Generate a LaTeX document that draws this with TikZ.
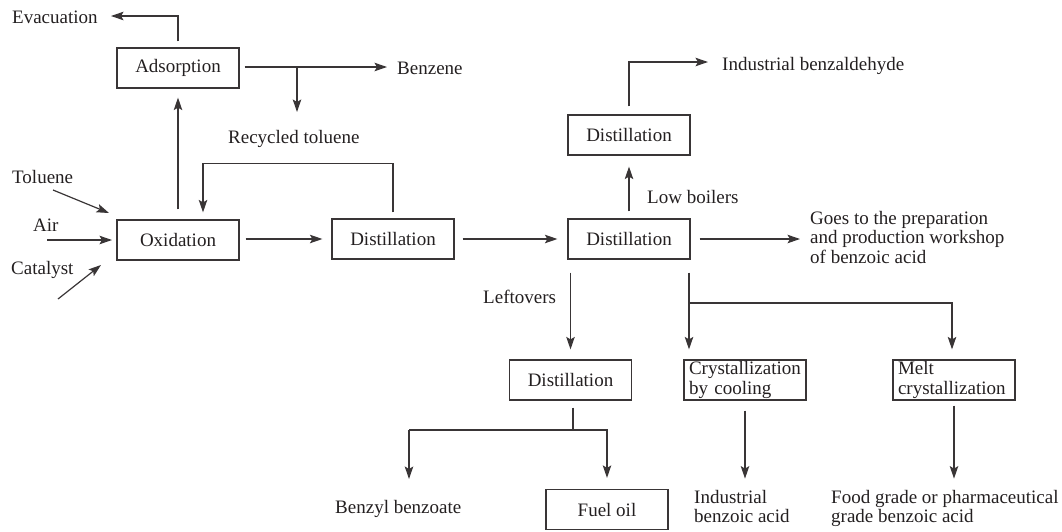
\documentclass[tikz,border=0pt]{standalone}
\usepackage{fontspec}
\setmainfont{Liberation Serif}
\usetikzlibrary{arrows.meta}
\definecolor{ink}{HTML}{231F20}
\begin{document}
\begin{tikzpicture}[x=1pt,y=-1pt,
  line/.style={draw=ink!90, line width=1.2pt},
  arr/.style={line, -{Stealth[length=12.5pt,width=8.5pt,inset=2.5pt]}},
  box/.style={draw=ink!90, line width=1.2pt, minimum width=122pt, minimum height=40pt,
    inner sep=0pt, text=ink, font=\fontsize{19}{19.5}\selectfont},
  mbox/.style={box, text width=112pt, align=left, inner xsep=5pt},
  lbl/.style={inner sep=0pt, text=ink, font=\fontsize{19}{19.5}\selectfont, align=left, anchor=base west}]
\useasboundingbox (0,0) rectangle (1062,531);

% boxes
\node[box] (ads) at (178,68) {Adsorption};
\node[box] (oxi) at (178,240) {Oxidation};
\node[box] (d1) at (393,239) {Distillation};
\node[box] (d2) at (629,239) {Distillation};
\node[box] (d3) at (629,135) {Distillation};
\node[box] (d4) at (570.5,380) {Distillation};
\node[mbox] (cryst) at (745,380) {Crystallization\\by cooling};
\node[mbox] (melt) at (954,380) {Melt\\crystallization};
\node[box] (fuel) at (607,509.5) {Fuel oil};

% labels
\node[lbl] (evac) at (12,23) {Evacuation};
\node[lbl] (benz) at (397,74) {Benzene};
\node[lbl] (recy) at (228,143) {Recycled toluene};
\node[lbl] (tol) at (12,183) {Toluene};
\node[lbl] (air) at (33,231) {Air};
\node[lbl] (cat) at (11,274) {Catalyst};
\node[lbl] (low) at (647,203) {Low boilers};
\node[lbl] (ibz) at (722,70) {Industrial benzaldehyde};
\node[lbl, anchor=north west] (goes) at (810,211) {Goes to the preparation\\and production workshop\\of benzoic acid};
\node[lbl] (left) at (483,303) {Leftovers};
\node[lbl] (bb) at (335,513) {Benzyl benzoate};
\node[lbl, anchor=north west] (iba) at (694,490) {Industrial\\benzoic acid};
\node[lbl, anchor=north west] (food) at (831,490) {Food grade or pharmaceutical\\grade benzoic acid};

% free ends
\coordinate (evacend) at (111,16);
\coordinate (benzend) at (387,67);
\coordinate (recyend) at (297,112);
\coordinate (tolA) at (53,190);
\coordinate (tolB) at (109,213);
\coordinate (airA) at (47,240);
\coordinate (airB) at (112,240);
\coordinate (catA) at (58,299);
\coordinate (catB) at (101,265);
\coordinate (ibzend) at (708,62);
\coordinate (goesend) at (800,239);
\coordinate (bbend) at (409,479);

% connectors
\draw[arr] ([yshift=6pt]ads.north) |- (evacend);
\draw[arr] ([xshift=5pt,yshift=1pt]ads.east) -- (benzend);
\draw[arr] (297,67) -- (recyend);
\draw[arr, shorten <=10pt, shorten >=9pt] (oxi.north) -- (ads.south);
\draw[arr] (tolA) -- (tolB);
\draw[arr] (airA) -- (airB);
\draw[arr] (catA) -- (catB);
\draw[arr, shorten <=6pt, shorten >=9pt] (oxi.east |- d1.west) -- (d1.west);
\draw[arr] ([yshift=6pt]d1.north) -- ++(0,-49) -| ([xshift=25pt,yshift=7pt]oxi.north);
\draw[arr, shorten <=8pt, shorten >=10pt] (d1.east) -- (d2.west);
\draw[arr, shorten <=7pt, shorten >=11pt] (d2.north) -- (d3.south);
\draw[arr] ([yshift=8pt]d3.north) |- (ibzend);
\draw[arr] ([xshift=9pt]d2.east) -- (goesend);
\draw[arr] ([xshift=-58.5pt,yshift=-13pt]d2.south) -- ([yshift=10pt]d4.north);
\draw[arr] ([xshift=60pt,yshift=-13pt]d2.south) -- ([xshift=-56pt,yshift=10pt]cryst.north);
\draw[arr] (689,303) -| ([xshift=-2pt,yshift=10pt]melt.north);
\draw[line] ([xshift=2.5pt,yshift=-7pt]d4.south) -- ++(0,23);
\draw[arr] (bbend |- 430,430) -- (bbend);
\draw[arr] (409,430) -| ([yshift=11pt]fuel.north);
\draw[arr] ([yshift=-10pt]cryst.south) -- ++(0,68);
\draw[arr] ([yshift=-5pt]melt.south) -- ++(0,73);
\end{tikzpicture}
\end{document}
